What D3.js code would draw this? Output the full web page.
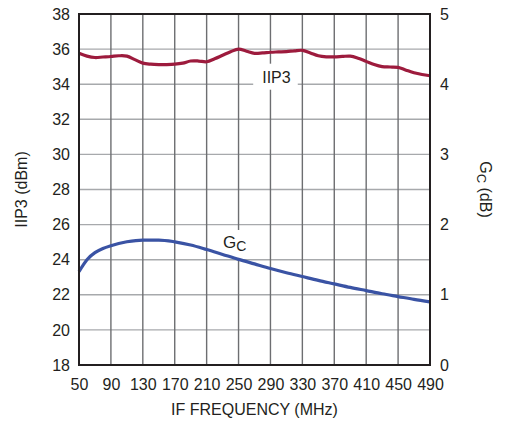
<!DOCTYPE html>
<html>
<head>
<meta charset="utf-8">
<script src="https://cdn.jsdelivr.net/npm/d3@7"></script>
<style>
  html, body { margin: 0; padding: 0; background: #fff; }
  text { font-family: "Liberation Sans", Arial, sans-serif; fill: #231f20; }
</style>
</head>
<body>
<svg id="chart" width="508" height="423"></svg>
<script>
// ---- data ----
const xTicks = [50, 90, 130, 170, 210, 250, 290, 330, 370, 410, 450, 490];
const leftTicks = [18, 20, 22, 24, 26, 28, 30, 32, 34, 36, 38];
const rightTicks = [0, 1, 2, 3, 4, 5];

const iip3Freq = [50, 60, 70, 80, 90, 100, 110, 120, 130, 140, 150, 160, 170, 180, 190, 200, 210, 220, 230, 240, 250,
                  260, 270, 280, 290, 300, 310, 320, 330, 340, 350, 360, 370, 380, 390, 400, 410, 420, 430, 440, 450,
                  460, 470, 480, 490];
const iip3Val = [35.76, 35.6, 35.52, 35.55, 35.58, 35.62, 35.6, 35.4, 35.2, 35.14, 35.12, 35.12, 35.14, 35.2, 35.32,
                 35.32, 35.28, 35.45, 35.65, 35.85, 36.0, 35.88, 35.76, 35.78, 35.82, 35.84, 35.86, 35.9, 35.93, 35.78,
                 35.62, 35.56, 35.56, 35.58, 35.6, 35.48, 35.3, 35.12, 35.0, 34.98, 34.96, 34.8, 34.65, 34.55, 34.48];

const gcFreq = [50, 60, 70, 80, 90, 110, 130, 150, 170, 190, 210, 230, 250, 270, 290, 310, 330, 350, 370, 390, 410,
                430, 450, 470, 490];
const gcVal = [1.33, 1.5, 1.6, 1.66, 1.7, 1.755, 1.78, 1.78, 1.755, 1.71, 1.645, 1.575, 1.505, 1.44, 1.375, 1.315,
               1.26, 1.205, 1.155, 1.105, 1.06, 1.015, 0.975, 0.935, 0.9];

// ---- layout ----
const L = 79, R = 430, T = 14, B = 365;
const svg = d3.select("#chart");

const x = d3.scaleLinear().domain([50, 490]).range([L, R]);
const yL = d3.scaleLinear().domain([18, 38]).range([B, T]);
const yR = d3.scaleLinear().domain([0, 5]).range([B, T]);

// grid
const grid = svg.append("g");
grid.selectAll("line.h").data(leftTicks).join("line")
  .attr("x1", L).attr("x2", R)
  .attr("y1", d => yL(d)).attr("y2", d => yL(d))
  .attr("stroke", "#a7a9ac").attr("stroke-width", 1.4);
grid.selectAll("line.v").data(xTicks).join("line")
  .attr("y1", T).attr("y2", B)
  .attr("x1", d => x(d)).attr("x2", d => x(d))
  .attr("stroke", "#6d6e71").attr("stroke-width", 1.4);

// axes (labels only)
const fs = "16px";
const axL = svg.append("g").attr("transform", `translate(${L},0)`)
  .call(d3.axisLeft(yL).tickValues(leftTicks).tickSize(0).tickPadding(9));
const axR = svg.append("g").attr("transform", `translate(${R},0)`)
  .call(d3.axisRight(yR).tickValues(rightTicks).tickSize(0).tickPadding(10).tickFormat(d3.format("d")));
const axB = svg.append("g").attr("transform", `translate(0,${B})`)
  .call(d3.axisBottom(x).tickValues(xTicks).tickSize(0).tickPadding(14));
[axL, axR, axB].forEach(a => {
  a.select(".domain").remove();
  a.selectAll("text").style("font-size", fs).style("font-family", '"Liberation Sans", Arial, sans-serif').attr("fill", "#231f20");
});

// label helper with white background box
function boxedLabel(g, pad) {
  const bb = g.node().getBBox();
  g.insert("rect", ":first-child")
    .attr("x", bb.x - pad[3]).attr("y", bb.y - pad[0])
    .attr("width", bb.width + pad[1] + pad[3]).attr("height", bb.height + pad[0] + pad[2])
    .attr("fill", "#fff");
}

const iipLbl = svg.append("g");
iipLbl.append("text").attr("x", x(297.5)).attr("y", yL(34) - 1.5)
  .attr("text-anchor", "middle").style("font-size", "16px").text("IIP3");
boxedLabel(iipLbl, [5, 7, 4, 9]);

const gcLbl = svg.append("g");
const gcT = gcLbl.append("text").attr("x", x(230.5)).attr("y", yR(1.667)).style("font-size", "17px");
gcT.append("tspan").text("G");
gcT.append("tspan").attr("dy", 3).style("font-size", "14px").text("C");
boxedLabel(gcLbl, [3, 4, 4, 5]);

// curves
const lineIIP = d3.line().x((d, i) => x(iip3Freq[i])).y(d => yL(d)).curve(d3.curveCatmullRom.alpha(0.5));
svg.append("path").attr("d", lineIIP(iip3Val))
  .attr("fill", "none").attr("stroke", "#9d1b3d").attr("stroke-width", 3.2).attr("stroke-linejoin", "round");

const lineGc = d3.line().x((d, i) => x(gcFreq[i])).y(d => yR(d)).curve(d3.curveMonotoneX);
svg.append("path").attr("d", lineGc(gcVal))
  .attr("fill", "none").attr("stroke", "#3a53a4").attr("stroke-width", 3.2).attr("stroke-linejoin", "round");

// frame
svg.append("rect").attr("x", L).attr("y", T).attr("width", R - L).attr("height", B - T)
  .attr("fill", "none").attr("stroke", "#231f20").attr("stroke-width", 2);

// axis titles
svg.append("text").attr("x", (L + R) / 2).attr("y", 415).attr("text-anchor", "middle")
  .style("font-size", "16px").text("IF FREQUENCY (MHz)");
svg.append("text").attr("transform", `translate(27,${(T + B) / 2}) rotate(-90)`).attr("text-anchor", "middle")
  .style("font-size", "16px").text("IIP3 (dBm)");
const rt = svg.append("text").attr("transform", `translate(480,${(T + B) / 2}) rotate(90)`).attr("text-anchor", "middle")
  .style("font-size", "16px");
rt.append("tspan").text("G");
rt.append("tspan").attr("dy", 3).style("font-size", "13px").text("C");
rt.append("tspan").attr("dy", -3).text(" (dB)");
</script>
</body>
</html>
